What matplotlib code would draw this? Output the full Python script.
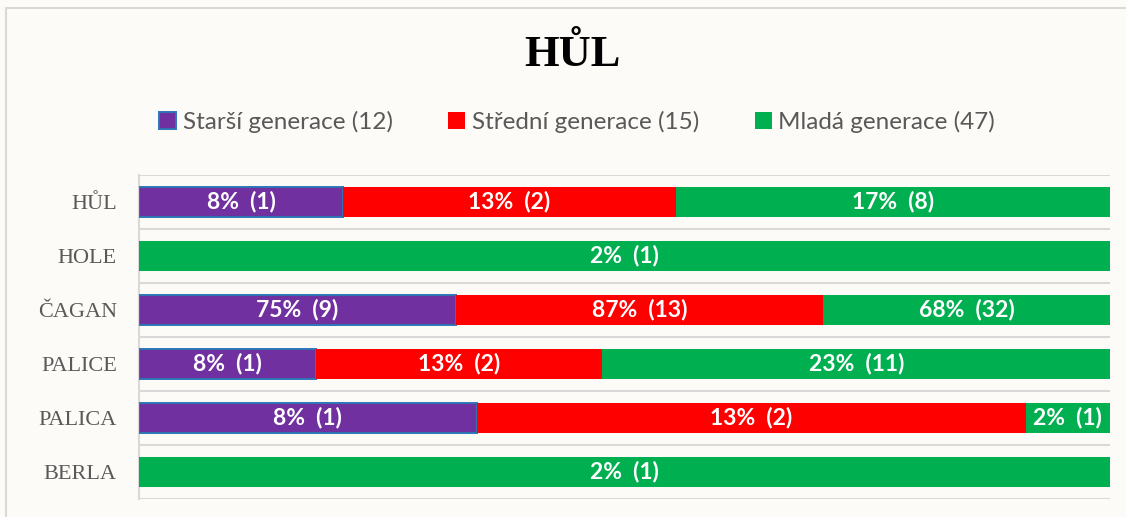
import matplotlib.pyplot as plt
from matplotlib.patches import Rectangle

# data (top to bottom)
categories = ["HŮL", "HOLE", "ČAGAN", "PALICE", "PALICA", "BERLA"]
starsi_pct = [8, 0, 75, 8, 8, 0]
starsi_n = [1, 0, 9, 1, 1, 0]
stredni_pct = [13, 0, 87, 13, 13, 0]
stredni_n = [2, 0, 13, 2, 2, 0]
mlada_pct = [17, 2, 68, 23, 2, 2]
mlada_n = [8, 1, 32, 11, 1, 1]
series_names = ["Starší generace (12)", "Střední generace (15)", "Mladá generace (47)"]

BG = "#FCFBF7"
COLORS = ["#7030A0", "#FF0000", "#00B050"]
EDGES = ["#2E75B6", "none", "none"]

fig = plt.figure(figsize=(11.26, 5.17), dpi=100, facecolor=BG)
ax = fig.add_axes([139 / 1126, 1 - 499 / 517, (1110 - 139) / 1126, (499 - 175) / 517])
ax.set_facecolor(BG)

# outer frame
fig.patches.append(Rectangle((6 / 1126, -0.1), 1.2, 1 - 8 / 517 + 0.1, transform=fig.transFigure,
                             fill=False, edgecolor="#D9D9D9", linewidth=1.5))

series = [(starsi_pct, starsi_n), (stredni_pct, stredni_n), (mlada_pct, mlada_n)]
y = list(range(len(categories)))
totals = [a + b + c for a, b, c in zip(starsi_pct, stredni_pct, mlada_pct)]

left = [0.0] * len(categories)
for (pct, n), name, col, ec in zip(series, series_names, COLORS, EDGES):
    share = [p / t for p, t in zip(pct, totals)]
    ax.barh(y, share, left=left, height=0.56, color=col, edgecolor=ec,
            linewidth=1.4 if ec != "none" else 0, label=name, zorder=3)
    for i in range(len(categories)):
        if pct[i] > 0:
            ax.text(left[i] + share[i] / 2, y[i], f"{pct[i]}%  ({n[i]})", ha="center", va="center",
                    color="white", fontsize=16.5, fontweight="bold", family="Lato", zorder=4)
    left = [l + s for l, s in zip(left, share)]

ax.set_xlim(0, 1)
ax.set_ylim(len(categories) - 0.5, -0.5)
ax.set_yticks(y)
ax.set_yticklabels(categories, family="Liberation Serif", fontsize=16, color="#595959")
ax.tick_params(axis="y", length=0, pad=16)
ax.set_xticks([])
for b in [i - 0.5 for i in range(len(categories) + 1)]:
    ax.axhline(b, color="#D9D9D9", linewidth=1.5, zorder=1)
for s in ["top", "right", "bottom"]:
    ax.spines[s].set_visible(False)
ax.spines["left"].set_color("#D9D9D9")
ax.spines["left"].set_linewidth(1.5)

fig.text(572 / 1126, 1 - 55 / 517, "HŮL", ha="center", va="center", family="Liberation Serif",
         fontweight="bold", fontsize=32, color="black")

leg = fig.legend(loc="center", bbox_to_anchor=(577 / 1126, 1 - 122 / 517), ncol=3, frameon=False,
                 prop={"family": "Lato", "size": 17.5}, handlelength=0.7, handleheight=0.7,
                 handletextpad=0.25, columnspacing=2.3, labelcolor="#595959")

fig.savefig("out.png", dpi=100, facecolor=BG)
